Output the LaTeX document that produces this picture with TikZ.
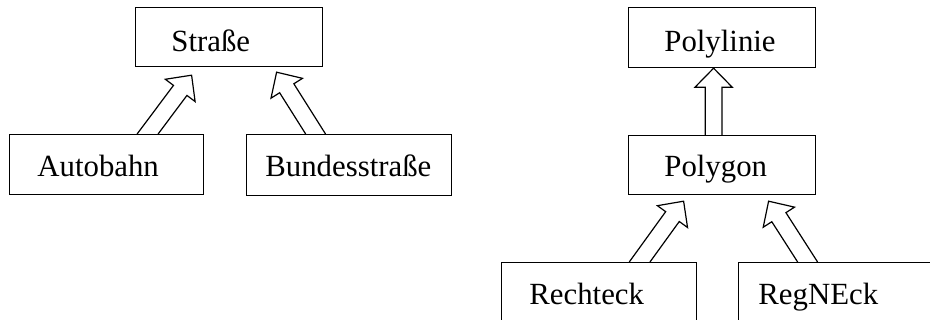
\documentclass[tikz,border=0pt]{standalone}
\usepackage{fontspec}
\setmainfont{Liberation Serif}
\usetikzlibrary{calc}

\tikzset{
  klasse/.style={draw, rectangle, line width=0.6pt, inner sep=0pt,
    anchor=north west, minimum height=30pt},
  titel/.style={anchor=base west, inner sep=0pt,
    font=\fontsize{15.4}{18}\selectfont},
  pfeil/.style={line width=0.6pt, line join=miter}
}

% hollow inheritance arrow from #1 (on a box top) to the tip #2
\newcommand{\erbt}[2]{%
  \path ($(#2)!9.5pt!(#1)$) coordinate (hb);
  \draw[pfeil] let \p1=($(#2)-(#1)$), \n1={4.2pt*veclen(\x1,\y1)/\y1} in
    ($(#1)+(-\n1,0pt)$) -- ($(hb)!4.2pt!90:(#2)$)
    -- ($(hb)!9.3pt!90:(#2)$) -- (#2) -- ($(hb)!9.3pt!-90:(#2)$)
    -- ($(hb)!4.2pt!-90:(#2)$) -- ($(#1)+(\n1,0pt)$);
}

\begin{document}
\begin{tikzpicture}[x=0.5pt, y=0.5pt]
\useasboundingbox (0,0) rectangle (930,320);

% streets
\node[klasse, minimum width=93.5pt, minimum height=29.5pt] (strasse) at (135,313) {};
\node[klasse, minimum width=97pt] (autobahn) at (9,186) {};
\node[klasse, minimum width=102.5pt, minimum height=30.5pt] (bundes) at (246,186) {};

\node[titel] (tstrasse) at ([shift={(36,-45)}]strasse.north west) {Straße};
\node[titel] (tautobahn) at ([shift={(28,-43)}]autobahn.north west) {Autobahn};
\node[titel] (tbundes) at ([shift={(19,-43)}]bundes.north west) {Bundesstraße};

% polygons
\node[klasse, minimum width=93.5pt] (polylinie) at (628,313) {};
\node[klasse, minimum width=93.5pt, minimum height=29.5pt] (polygon) at (628,185) {};
\node[klasse, minimum width=97.5pt] (rechteck) at (501,58) {};
\node[klasse, minimum width=100pt] (regneck) at (738,58) {};

\node[titel] (tpolylinie) at ([shift={(36,-45)}]polylinie.north west) {Polylinie};
\node[titel] (tpolygon) at ([shift={(36,-42)}]polygon.north west) {Polygon};
\node[titel] (trechteck) at ([shift={(28,-43)}]rechteck.north west) {Rechteck};
\node[titel] (tregneck) at ([shift={(20,-43)}]regneck.north west) {RegNEck};

% arrow ends
\coordinate (s1) at ($(autobahn.north)+(41,0)$);
\coordinate (z1) at ($(strasse.south)+(-37.5,-8)$);
\coordinate (s2) at ($(bundes.north)+(-33.5,0)$);
\coordinate (z2) at ($(strasse.south)+(47.5,-5)$);
\coordinate (s3) at ($(polygon.north)+(-8.5,0)$);
\coordinate (z3) at ($(polylinie.south)+(-8.5,0)$);
\coordinate (s4) at ($(rechteck.north)+(40.5,0)$);
\coordinate (z4) at ($(polygon.south)+(-38.5,-6)$);
\coordinate (s5) at ($(regneck.north)+(-31,0)$);
\coordinate (z5) at ($(polygon.south)+(46.5,-6)$);

\erbt{s1}{z1}
\erbt{s2}{z2}
\erbt{s3}{z3}
\erbt{s4}{z4}
\erbt{s5}{z5}
\end{tikzpicture}
\end{document}
